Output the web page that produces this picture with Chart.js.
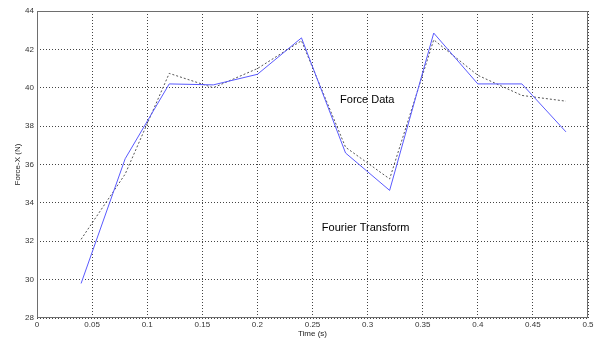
<!DOCTYPE html>
<html>
<head>
<meta charset="utf-8">
<script src="https://cdn.jsdelivr.net/npm/chart.js@4"></script>
<style>
  html, body { margin: 0; padding: 0; background: #fff; }
  #wrap { width: 600px; height: 340px; }
</style>
</head>
<body>
<div id="wrap"><canvas id="chart"></canvas></div>
<script>
// Dati
const tempi = [0.04, 0.08, 0.12, 0.16, 0.2, 0.24, 0.28, 0.32, 0.36, 0.4, 0.44, 0.48];
const forzaMisurata = [29.8, 36.3, 40.2, 40.15, 40.7, 42.6, 36.6, 34.65, 42.85, 40.2, 40.2, 37.7];
const forzaFourier = [32.1, 35.5, 40.75, 40.0, 41.0, 42.45, 36.9, 35.25, 42.5, 40.65, 39.6, 39.3];
const xTicks = [0, 0.05, 0.1, 0.15, 0.2, 0.25, 0.3, 0.35, 0.4, 0.45, 0.5];
const yTicks = [28, 30, 32, 34, 36, 38, 40, 42, 44];
const etichette = [
  { testo: "Force Data", x: 0.275, y: 39.35 },
  { testo: "Fourier Transform", x: 0.2585, y: 32.7 },
];

const puntiMisurati = tempi.map((t, i) => ({ x: t, y: forzaMisurata[i] }));
const puntiFourier = tempi.map((t, i) => ({ x: t, y: forzaFourier[i] }));

// Cornice, titoli assi ed etichette
const decorazioni = {
  id: "decorazioni",
  afterDraw(chart) {
    const { ctx, chartArea: a, scales } = chart;
    ctx.save();
    ctx.strokeStyle = "#6e6e6e";
    ctx.lineWidth = 1;
    ctx.strokeRect(a.left + 0.5, a.top + 0.5, a.right - a.left - 1, a.bottom - a.top - 1);

    ctx.fillStyle = "#222";
    ctx.font = "8px 'Liberation Sans', Arial, sans-serif";
    ctx.textAlign = "center";
    ctx.textBaseline = "middle";
    ctx.fillText("Time (s)", (a.left + a.right) / 2, 334);
    ctx.translate(18, (a.top + a.bottom) / 2);
    ctx.rotate(-Math.PI / 2);
    ctx.fillText("Force-X (N)", 0, 0);
    ctx.restore();

    ctx.save();
    ctx.fillStyle = "#000";
    ctx.font = "11px 'Liberation Sans', Arial, sans-serif";
    ctx.textAlign = "left";
    ctx.textBaseline = "middle";
    etichette.forEach((e) => {
      ctx.fillText(e.testo, scales.x.getPixelForValue(e.x), scales.y.getPixelForValue(e.y));
    });
    ctx.restore();
  },
};

const griglia = {
  color: "#444",
  lineWidth: 1,
  drawTicks: false,
};
const bordoTratteggiato = { display: false, dash: [1, 2] };

new Chart(document.getElementById("chart"), {
  type: "line",
  data: {
    datasets: [
      {
        label: "Force Data",
        data: puntiMisurati,
        borderColor: "#5a5aff",
        borderWidth: 1,
        pointRadius: 0,
        tension: 0,
      },
      {
        label: "Fourier Transform",
        data: puntiFourier,
        borderColor: "#555",
        borderWidth: 1,
        borderDash: [2, 2],
        pointRadius: 0,
        tension: 0,
      },
    ],
  },
  options: {
    responsive: true,
    maintainAspectRatio: false,
    animation: false,
    layout: { padding: { top: 11, right: 12, left: 0, bottom: 0 } },
    plugins: { legend: { display: false }, tooltip: { enabled: false } },
    scales: {
      x: {
        type: "linear",
        min: 0,
        max: 0.5,
        afterBuildTicks: (s) => { s.ticks = xTicks.map((v) => ({ value: v })); },
        afterFit: (s) => { s.height = 22; },
        grid: griglia,
        border: bordoTratteggiato,
        ticks: {
          color: "#333",
          font: { size: 8, family: "'Liberation Sans', Arial, sans-serif" },
          padding: 2,
          maxRotation: 0,
          autoSkip: false,
          callback: (v) => String(Math.round(v * 100) / 100),
        },
      },
      y: {
        min: 28,
        max: 44,
        afterBuildTicks: (s) => { s.ticks = yTicks.map((v) => ({ value: v })); },
        afterFit: (s) => { s.width = 37; },
        grid: griglia,
        border: bordoTratteggiato,
        ticks: {
          color: "#333",
          font: { size: 8, family: "'Liberation Sans', Arial, sans-serif" },
          padding: 3,
          autoSkip: false,
        },
      },
    },
  },
  plugins: [decorazioni],
});
</script>
</body>
</html>
